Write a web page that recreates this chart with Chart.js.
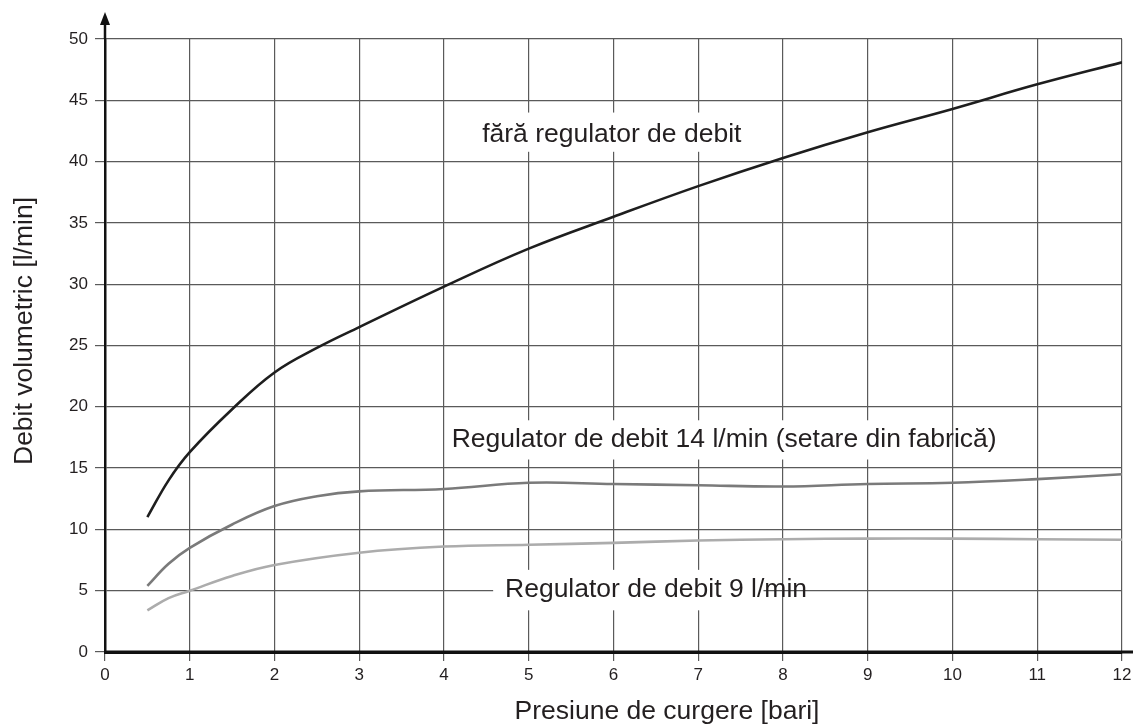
<!DOCTYPE html>
<html>
<head>
<meta charset="utf-8">
<script src="https://cdn.jsdelivr.net/npm/chart.js@4.4.1/dist/chart.umd.min.js"></script>
<style>
  html, body { margin: 0; padding: 0; background: #fff; }
  #wrap { width: 1133px; height: 727px; position: relative; }
</style>
</head>
<body>
<div id="wrap"><canvas id="c" width="1133" height="727"></canvas></div>
<script>
// ---- data ----
const xTicks = [0, 1, 2, 3, 4, 5, 6, 7, 8, 9, 10, 11, 12];
const yTicks = [0, 5, 10, 15, 20, 25, 30, 35, 40, 45, 50];

const pressureNoReg = [0.5, 0.75, 1, 1.5, 2, 2.5, 3, 4, 5, 6, 7, 8, 9, 10, 11, 12];
const flowNoReg     = [11.0, 14.0, 16.3, 19.8, 22.8, 24.8, 26.5, 29.8, 32.9, 35.5, 38.0, 40.3, 42.4, 44.3, 46.3, 48.1];

const pressure14 = [0.5, 0.75, 1, 1.5, 2, 2.5, 3, 4, 5, 6, 7, 8, 9, 10, 11, 12];
const flow14     = [5.4, 7.2, 8.5, 10.4, 11.9, 12.7, 13.1, 13.3, 13.8, 13.7, 13.6, 13.5, 13.7, 13.8, 14.1, 14.5];

const pressure9 = [0.5, 0.75, 1, 1.5, 2, 3, 4, 5, 6, 7, 8, 9, 10, 11, 12];
const flow9     = [3.4, 4.4, 5.0, 6.2, 7.1, 8.1, 8.6, 8.75, 8.9, 9.1, 9.2, 9.25, 9.25, 9.2, 9.15];

const seriesLabels = [
  "fără regulator de debit",
  "Regulator de debit 14 l/min (setare din fabrică)",
  "Regulator de debit 9 l/min"
];
const xTitle = "Presiune de curgere [bari]";
const yTitle = "Debit volumetric [l/min]";

// ---- helpers ----
const toPts = (xs, ys) => xs.map((x, i) => ({ x: x, y: ys[i] }));
const FONT = '"Liberation Sans", Arial, Helvetica, sans-serif';
const TEXT = '#231f20';
const BIG = 26.5;

// in-plot labels with white boxes (data coords)
const labelSpecs = [
  { text: seriesLabels[0], tx: 4.45, ty: 42.2, box: [4.3, 7.7, 40.8, 44.0] },
  { text: seriesLabels[1], tx: 4.09, ty: 17.3, box: [4.06, 9.96, 15.7, 18.9] },
  { text: seriesLabels[2], tx: 4.72, ty: 5.06, box: [4.58, 7.77, 3.4, 6.7] }
];

const labelPlugin = {
  id: 'labels',
  beforeDatasetsDraw(chart) {
    const { ctx, scales: { x, y } } = chart;
    ctx.save();
    ctx.fillStyle = '#ffffff';
    labelSpecs.forEach(l => {
      const x0 = x.getPixelForValue(l.box[0]), x1 = x.getPixelForValue(l.box[1]);
      const y0 = y.getPixelForValue(l.box[3]), y1 = y.getPixelForValue(l.box[2]);
      ctx.fillRect(x0, y0, x1 - x0, y1 - y0);
    });
    ctx.restore();
  },
  afterDatasetsDraw(chart) {
    const { ctx, scales: { x, y } } = chart;
    ctx.save();
    ctx.fillStyle = TEXT;
    ctx.font = BIG + 'px ' + FONT;
    ctx.textAlign = 'left';
    ctx.textBaseline = 'middle';
    labelSpecs.forEach(l => {
      ctx.fillText(l.text, x.getPixelForValue(l.tx), y.getPixelForValue(l.ty));
    });
    ctx.restore();
  },
  afterDraw(chart) {
    const { ctx, chartArea } = chart;
    ctx.save();
    // y-axis arrow
    const ax = chartArea.left;
    ctx.strokeStyle = '#111';
    ctx.lineWidth = 2.5;
    ctx.beginPath();
    ctx.moveTo(ax, chartArea.top);
    ctx.lineTo(ax, 22);
    ctx.stroke();
    ctx.fillStyle = '#111';
    ctx.beginPath();
    ctx.moveTo(ax, 12);
    ctx.lineTo(ax - 5, 25);
    ctx.lineTo(ax + 5, 25);
    ctx.closePath();
    ctx.fill();
    // x-axis extension to the right edge
    ctx.lineWidth = 3;
    ctx.beginPath();
    ctx.moveTo(chartArea.left - 1, chartArea.bottom);
    ctx.lineTo(chart.width, chartArea.bottom);
    ctx.stroke();
    // axis titles
    ctx.fillStyle = TEXT;
    ctx.font = BIG + 'px ' + FONT;
    ctx.textAlign = 'center';
    ctx.textBaseline = 'middle';
    ctx.fillText(xTitle, 667, 712);
    ctx.translate(25, 331);
    ctx.rotate(-Math.PI / 2);
    ctx.fillText(yTitle, 0, 0);
    ctx.restore();
  }
};

new Chart(document.getElementById('c'), {
  type: 'line',
  data: {
    datasets: [
      { label: seriesLabels[0], data: toPts(pressureNoReg, flowNoReg), borderColor: '#1e1e1e', borderWidth: 2.6 },
      { label: seriesLabels[1], data: toPts(pressure14, flow14), borderColor: '#7a7a7a', borderWidth: 2.6 },
      { label: seriesLabels[2], data: toPts(pressure9, flow9), borderColor: '#acacac', borderWidth: 2.6 }
    ]
  },
  options: {
    responsive: false,
    animation: false,
    events: [],
    elements: { point: { radius: 0 }, line: { tension: 0.4, borderCapStyle: 'butt', fill: false } },
    layout: { padding: { top: 39, right: 11, left: 0, bottom: 0 } },
    plugins: { legend: { display: false }, tooltip: { enabled: false } },
    scales: {
      x: {
        type: 'linear',
        min: 0, max: 12,
        afterBuildTicks: s => { s.ticks = xTicks.map(v => ({ value: v })); },
        afterFit: s => { s.height = 75; s.paddingLeft = 0; s.paddingRight = 0; },
        grid: { color: '#5a5a5a', lineWidth: 1.2, tickLength: 9, drawTicks: true },
        border: { color: '#111', width: 3 },
        ticks: { color: TEXT, font: { family: FONT, size: 17 }, padding: 4, maxRotation: 0 },
        title: { display: false }
      },
      y: {
        type: 'linear',
        min: 0, max: 50,
        afterBuildTicks: s => { s.ticks = yTicks.map(v => ({ value: v })); },
        afterFit: s => { s.width = 105; s.paddingTop = 0; s.paddingBottom = 0; },
        grid: { color: '#5a5a5a', lineWidth: 1.2, tickLength: 10, drawTicks: true },
        border: { color: '#111', width: 2.5 },
        ticks: { color: TEXT, font: { family: FONT, size: 17 }, padding: 7 },
        title: { display: false }
      }
    }
  },
  plugins: [labelPlugin]
});
</script>
</body>
</html>
